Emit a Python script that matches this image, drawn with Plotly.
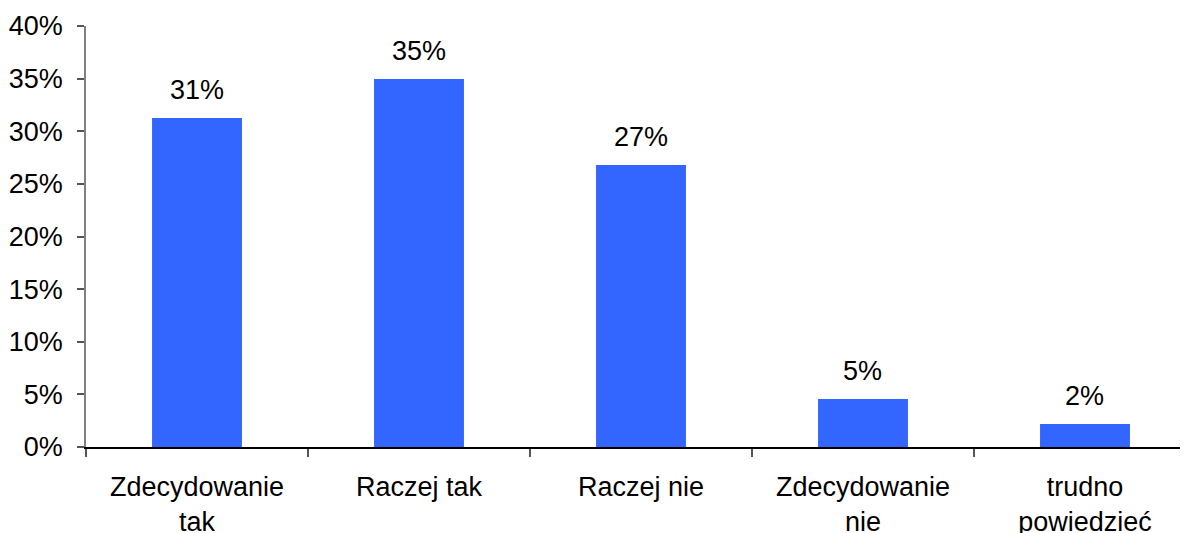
import plotly.graph_objects as go

categories = ["Zdecydowanie<br>tak", "Raczej tak", "Raczej nie", "Zdecydowanie<br>nie", "trudno<br>powiedzieć"]
values = [31.26, 34.96, 26.8, 4.56, 2.19]
y_ticks = [0, 5, 10, 15, 20, 25, 30, 35, 40]
y_tick_labels = [f"{v}%" for v in y_ticks]
labels = [f"{round(v)}%" for v in values]

FONT = "Liberation Sans, Arial, sans-serif"
FS = 27

fig = go.Figure()
fig.add_trace(go.Bar(
    x=categories, y=values,
    marker=dict(color="#3366FF", line=dict(width=0)),
    hoverinfo="skip",
))

for c, v, t in zip(categories, values, labels):
    fig.add_annotation(x=c, y=v, text=t, showarrow=False, yanchor="bottom",
                       yshift=11, font=dict(family=FONT, size=FS, color="black"))

# page body has an 8px margin; size the figure so it fills the window exactly
fig.update_layout(
    width=1180, height=525,
    margin=dict(l=78, r=0, t=18, b=86),
    paper_bgcolor="white", plot_bgcolor="white",
    bargap=0.595,
    showlegend=False,
    font=dict(family=FONT, size=FS, color="black"),
)
fig.update_xaxes(
    type="category",
    range=[-0.5, 4.464],
    automargin=False,
    showline=True, linecolor="black", linewidth=1.5,
    ticks="outside", tickson="boundaries", ticklen=8, tickcolor="#555555", tickwidth=1.5,
    showgrid=False, zeroline=False,
    tickfont=dict(family=FONT, size=FS, color="black"),
    ticklabelstandoff=15,
)
fig.update_yaxes(
    range=[0, 40],
    automargin=False,
    tickmode="array", tickvals=y_ticks, ticktext=y_tick_labels,
    showline=True, linecolor="#808080", linewidth=1.5,
    ticks="outside", ticklen=7, tickcolor="#555555", tickwidth=1.5,
    showgrid=False, zeroline=False,
    tickfont=dict(family=FONT, size=FS, color="black"),
    ticklabelstandoff=9,
)

fig.write_html("out.html")
